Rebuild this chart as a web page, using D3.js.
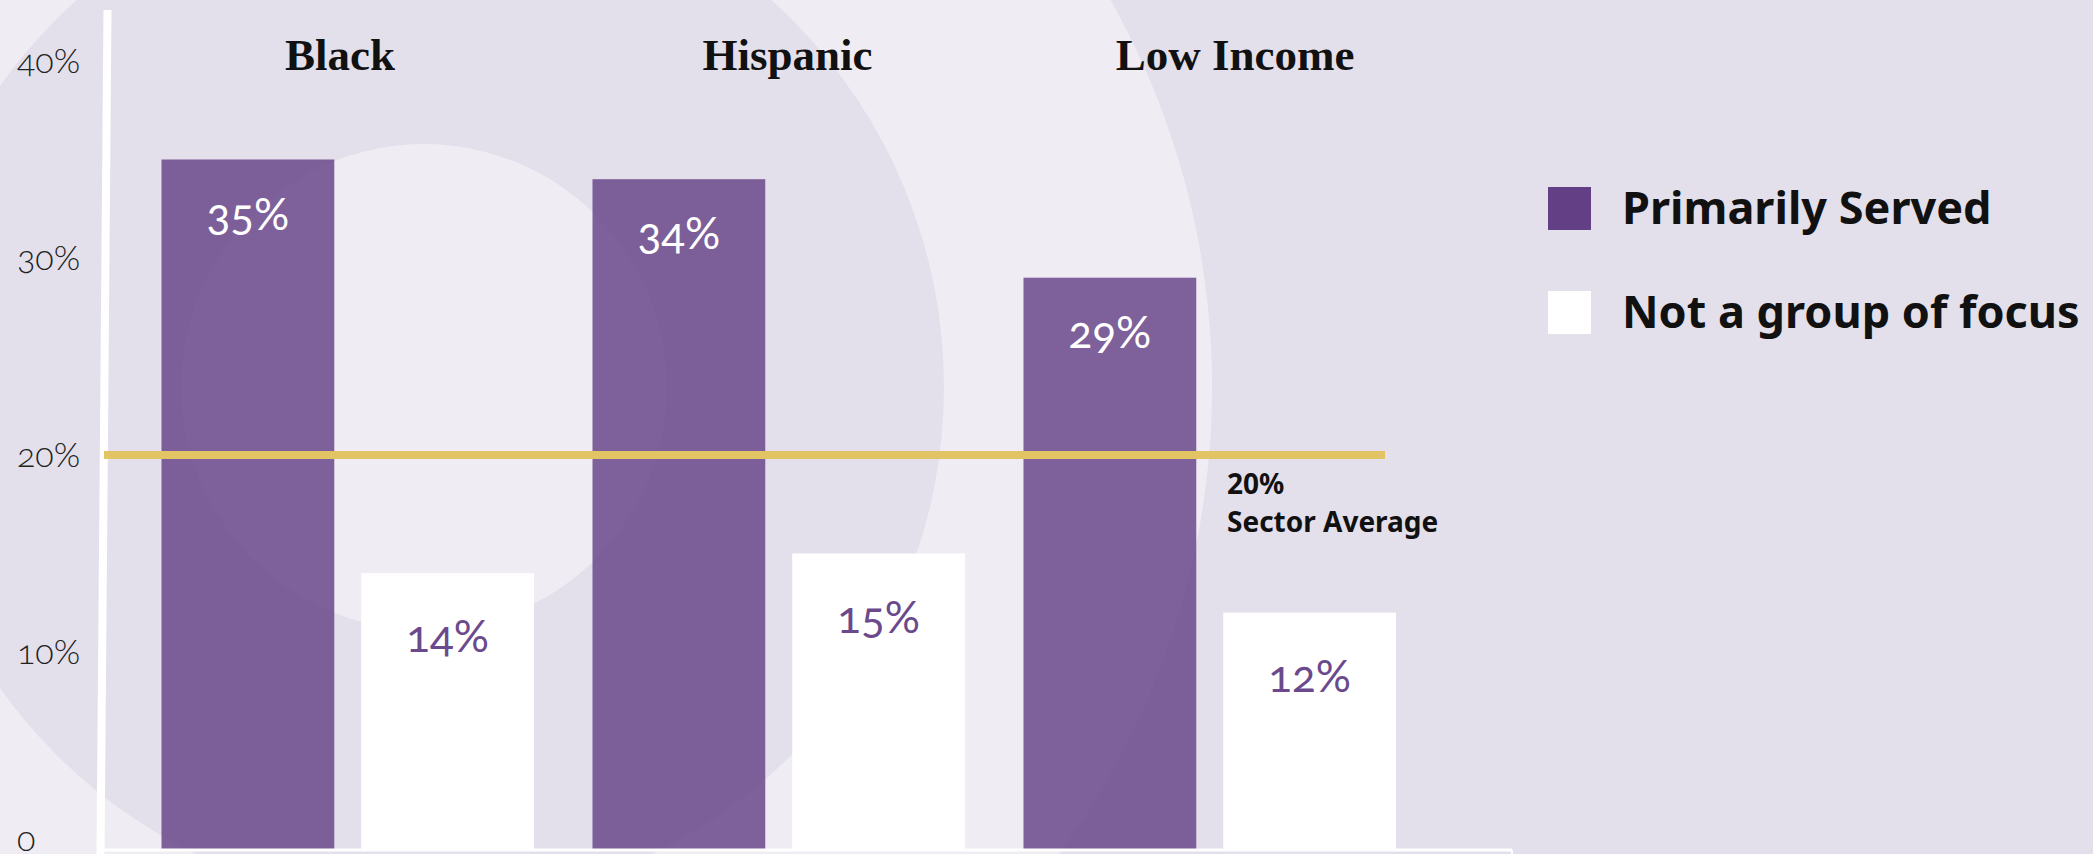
<!DOCTYPE html>
<html>
<head>
<meta charset="utf-8">
<script src="https://cdn.jsdelivr.net/npm/d3@7"></script>
<style>
  html, body { margin: 0; padding: 0; background: #e3e0ec; overflow: hidden; }
  .tic-label { font-family: Lato, "Open Sans", sans-serif; font-weight: 300; font-size: 34px; fill: #222;
               font-feature-settings: "onum"; }
  .cat-label { font-family: "Liberation Serif", "DejaVu Serif", serif; font-weight: bold; font-size: 45px; fill: #111; }
  .bar-label { font-family: Lato, "Open Sans", sans-serif; font-weight: 400; font-size: 44px;
               font-feature-settings: "onum"; text-anchor: middle; }
  .avg-label { font-family: "Noto Sans", "Open Sans", sans-serif; font-weight: bold; font-size: 28px; fill: #111; }
  .legend-label { font-family: "Noto Sans", "Open Sans", sans-serif; font-weight: bold; font-size: 45px; fill: #111; }
</style>
</head>
<body>
<div id="chart"></div>
<script>
/* Variables *******************************************************************/

var categories = ['Black', 'Hispanic', 'Low Income'],
    series_names = ['Primarily Served', 'Not a group of focus'],
    primarily_served = [35, 34, 29],
    not_focus = [14, 15, 12],
    y_tics = [0, 10, 20, 30, 40],
    y_tic_labels = ['0', '10%', '20%', '30%', '40%'],
    sector_average = 20,
    sector_average_label = ['20%', 'Sector Average'];

/* Functions *******************************************************************/

/*
 * Name: build_chart
 * Synop: draws the grouped bars, the sector average line and the legend
 */
function build_chart()
{
    let width = 2093,
        height = 854;

    let svg = d3.select('#chart').append('svg')
        .attr('width', width)
        .attr('height', height);

    let line = d3.line();

    // background rings ////////////////////////////////////////////
    let bg = svg.append('g'),
        cx = 424, cy = 387;

    bg.append('rect').attr('width', width).attr('height', height).attr('fill', '#e3e0ec');
    [[788, '#efedf3'], [520, '#e3e0ec'], [243, '#efedf3']].forEach(
        d => bg.append('circle')
               .attr('cx', cx).attr('cy', cy).attr('r', d[0])
               .attr('fill', d[1]));

    // scales
    let y = d3.scaleLinear().domain([0, 40]).range([849, 61]),
        x0 = d3.scaleBand().domain(categories).range([161.5, 1396]).paddingInner(0.1357),
        x1 = d3.scaleBand().domain(['primary', 'other']).range([0, x0.bandwidth()]).paddingInner(0.135),
        label_x = d3.scalePoint().domain(categories).range([340, 1235]);

    let rows = categories.map((c, i) => ({ cat: c, primary: primarily_served[i], other: not_focus[i] }));

    // y tic labels (the bottom one sits on the edge of the picture)
    let yaxis = svg.append('g');
    yaxis.selectAll('text').data(y_tics).enter()
        .append('text')
        .attr('x', 17)
        .attr('y', (v) => Math.min(y(v) + 12, height - 3))
        .text((v, i) => y_tic_labels[i])
        .attr('class', 'tic-label');

    // bars //////////////////////////////////////////////////////
    let groups = svg.append('g').selectAll('g').data(rows).enter()
        .append('g')
        .attr('transform', (d) => `translate(${x0(d.cat)},0)`);

    groups.append('rect')
        .attr('x', x1('primary'))
        .attr('y', (d) => y(d.primary))
        .attr('width', x1.bandwidth())
        .attr('height', (d) => y(0) - y(d.primary))
        .attr('fill', '#613d83')
        .attr('fill-opacity', 0.8);

    groups.append('rect')
        .attr('x', x1('other'))
        .attr('y', (d) => y(d.other))
        .attr('width', x1.bandwidth())
        .attr('height', (d) => y(0) - y(d.other))
        .attr('fill', '#ffffff');

    // value labels
    groups.append('text')
        .attr('x', x1('primary') + x1.bandwidth() / 2)
        .attr('y', (d) => y(d.primary) + 70)
        .attr('fill', '#ffffff')
        .attr('class', 'bar-label')
        .text((d) => d.primary + '%');

    groups.append('text')
        .attr('x', x1('other') + x1.bandwidth() / 2)
        .attr('y', (d) => y(d.other) + 79)
        .attr('fill', '#6a4a8c')
        .attr('class', 'bar-label')
        .text((d) => d.other + '%');

    // category labels
    svg.append('g').selectAll('text').data(categories).enter()
        .append('text')
        .attr('x', (c) => label_x(c))
        .attr('y', 70)
        .attr('text-anchor', 'middle')
        .attr('class', 'cat-label')
        .text((c) => c);

    // axis lines ////////////////////////////////////////////////
    svg.append('path')
        .attr('d', line([[1512, y(0) + 1], [1512, height]]))
        .attr('stroke', '#ffffff')
        .attr('stroke-width', 2);

    svg.append('path')
        .attr('d', line([[100, y(0) + 1], [1512, y(0) + 1]]))
        .attr('stroke', '#ffffff')
        .attr('stroke-width', 3);

    svg.append('path')
        .attr('d', line([[107.5, 10], [100.5, height]]))
        .attr('stroke', '#ffffff')
        .attr('stroke-width', 8);

    // sector average ////////////////////////////////////////////
    svg.append('path')
        .attr('d', line([[104, y(sector_average)], [1385, y(sector_average)]]))
        .attr('stroke', '#e2c465')
        .attr('stroke-width', 8);

    svg.append('g').selectAll('text').data(sector_average_label).enter()
        .append('text')
        .attr('x', 1227)
        .attr('y', (d, i) => y(sector_average) + 39 + i * 38)
        .attr('class', 'avg-label')
        .text((d) => d);

    // legend ////////////////////////////////////////////////////
    let legend = svg.append('g').selectAll('g').data(series_names).enter()
        .append('g')
        .attr('transform', (d, i) => `translate(1548,${187 + i * 104})`);

    legend.append('rect')
        .attr('width', 43)
        .attr('height', 43)
        .attr('fill', (d, i) => i == 0 ? '#633f85' : '#ffffff');

    legend.append('text')
        .attr('x', 74)
        .attr('y', 37)
        .attr('class', 'legend-label')
        .text((d) => d);
}

build_chart();
</script>
</body>
</html>
